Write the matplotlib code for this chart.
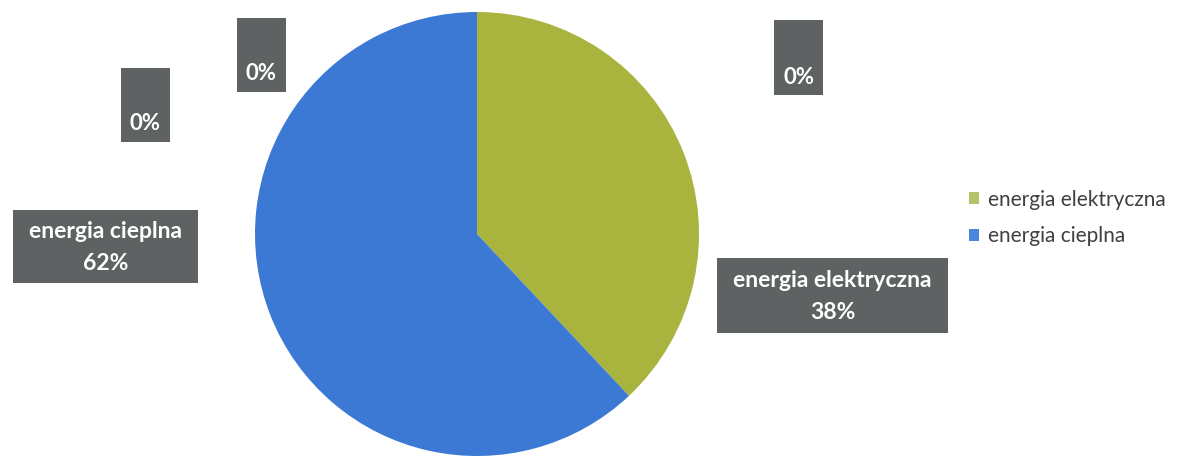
import matplotlib
matplotlib.use("Agg")
import matplotlib.pyplot as plt
from matplotlib.patches import Patch, Rectangle

categories = ["energia elektryczna", "energia cieplna"]
values = [38, 62]
colors = ["#a8b43e", "#3b79d5"]
legend_colors = ["#b4c26a", "#4a86dc"]
zero_labels = ["0%", "0%", "0%"]

W, H = 1179, 457
fig = plt.figure(figsize=(W / 100, H / 100), dpi=100)
fig.patch.set_facecolor("white")

cx, cy, r = 477, 234, 222
ax = fig.add_axes([(cx - r) / W, (H - cy - r) / H, 2 * r / W, 2 * r / H])
ax.pie(values, colors=colors, startangle=90, counterclock=False,
       wedgeprops=dict(linewidth=0))
ax.set_xlim(-1, 1)
ax.set_ylim(-1, 1)
ax.set_aspect("equal")
ax.axis("off")

font = "Lato"
boxcol = "#5e6263"

def add_box(x0, y0, x1, y1):
    fig.patches.append(Rectangle((x0 / W, 1 - y1 / H), (x1 - x0) / W,
                                 (y1 - y0) / H, transform=fig.transFigure,
                                 facecolor=boxcol, edgecolor="none",
                                 zorder=1))

def px(x, y):
    return x / W, 1 - y / H

# main data labels: (box x0, y0, x1, y1)
label_box = {0: (717, 258, 948, 333), 1: (13, 210, 198, 283)}
for i, (c, v) in enumerate(zip(categories, values)):
    x0, y0, x1, y1 = label_box[i]
    add_box(x0, y0, x1, y1)
    x, y = px((x0 + x1) / 2, (y0 + y1) / 2 + 1)
    fig.text(x, y, f"{c}\n{v}%", ha="center", va="center", color="white",
             fontsize=16.5, fontweight="bold", family=font, linespacing=1.6,
             zorder=2)

# zero-value labels
zero_box = [(121, 68, 170, 142), (237, 18, 286, 92), (774, 20, 823, 95)]
for lab, (x0, y0, x1, y1) in zip(zero_labels, zero_box):
    add_box(x0, y0, x1, y1)
    x, y = px((x0 + x1) / 2, y1 - 18)
    fig.text(x, y, lab, ha="center", va="center", color="white",
             fontsize=16, fontweight="bold", family=font, zorder=2)

handles = [Patch(facecolor=lc, edgecolor="none") for lc in legend_colors]
fig.legend(handles, categories, loc="center left",
           bbox_to_anchor=(950 / W, 1 - 218 / H), frameon=False,
           prop=dict(family=font, size=15), labelcolor="#404040",
           handlelength=0.5, handleheight=0.5, handletextpad=0.4,
           labelspacing=0.8)

fig.savefig("out.png", dpi=100, facecolor="white")
